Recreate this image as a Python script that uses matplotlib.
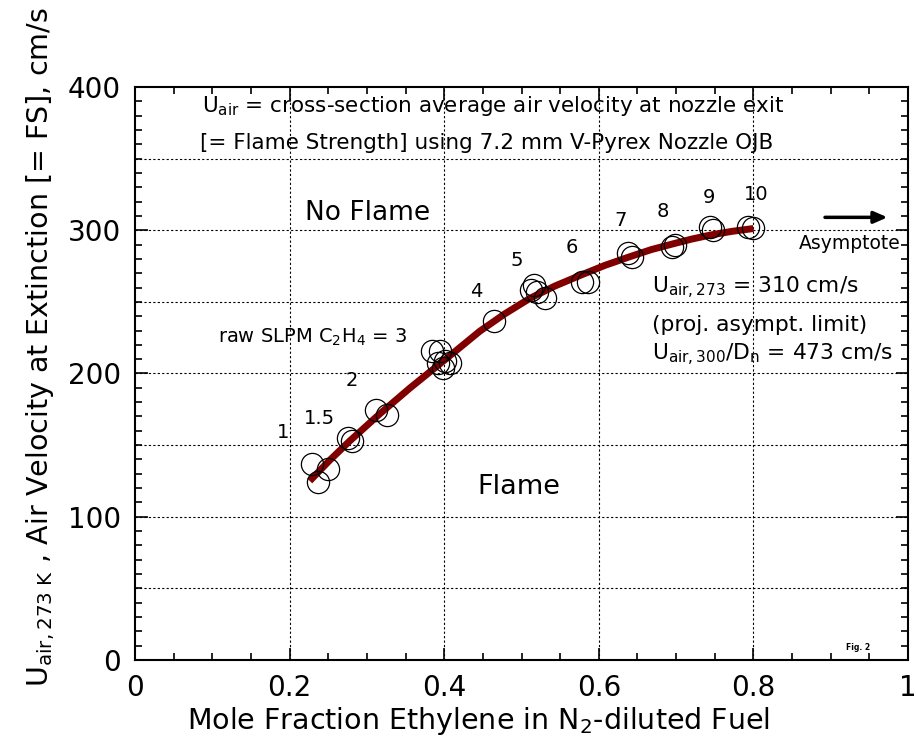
import matplotlib.pyplot as plt
import numpy as np

# puntos medidos (fraccion molar, velocidad)
x_pts = [0.229, 0.237, 0.250, 0.276, 0.281, 0.312, 0.326,
         0.384, 0.395, 0.401, 0.392, 0.407, 0.398,
         0.464, 0.512, 0.516, 0.520, 0.530,
         0.578, 0.586, 0.638, 0.643, 0.695, 0.699,
         0.744, 0.748, 0.793, 0.799]
y_pts = [137, 124, 133, 155, 153, 174.5, 171,
         216, 216, 209, 207, 207, 204,
         236.6, 258, 262, 257, 252.7,
         264, 264, 284, 281, 288, 290,
         302, 300, 302, 301.5]

# curva de ajuste
x_fit = [0.226, 0.252, 0.278, 0.317, 0.356, 0.395, 0.420, 0.446, 0.478, 0.511,
         0.543, 0.576, 0.608, 0.640, 0.668, 0.696, 0.720, 0.744, 0.772, 0.800]
y_fit = [125, 139.5, 153, 172, 190, 207, 218, 229.5, 241.5, 252.5,
         261, 268.5, 275.5, 281.5, 286.5, 290.5, 293.8, 296.6, 299.2, 301.2]

# etiquetas de caudal SLPM
lbl_txt = ['1', '1.5', '2', 'raw SLPM C$_2$H$_4$ = 3', '4', '5', '6', '7', '8', '9', '10']
lbl_x = [0.191, 0.238, 0.281, 0.352, 0.441, 0.494, 0.565, 0.628, 0.683, 0.742, 0.803]
lbl_y = [158.5, 168.7, 195, 225.5, 257, 279, 288, 307, 313, 323, 325]

plt.rcParams['font.family'] = ['DejaVu Sans']

fig = plt.figure(figsize=(9.16, 7.46), dpi=100)
ax = fig.add_axes([0.1474, 0.1153, 0.8439, 0.7681])

ax.plot(x_fit, y_fit, '-', color='#800000', lw=5, solid_capstyle='butt',
        solid_joinstyle='round', zorder=2)
ax.plot(x_pts, y_pts, 'o', mfc='none', mec='black', ms=16, mew=0.9, zorder=3)

for t, xx, yy in zip(lbl_txt, lbl_x, lbl_y):
    ha = 'right' if t.startswith('raw') else 'center'
    ax.text(xx, yy, t, ha=ha, va='center', fontsize=14)

ax.text(0.301, 312, 'No Flame', ha='center', va='center', fontsize=19)
ax.text(0.497, 121, 'Flame', ha='center', va='center', fontsize=19.5)

ax.text(0.463, 387, r'U$_{\rm air}$ = cross-section average air velocity at nozzle exit',
        ha='center', va='center', fontsize=15.5)
ax.text(0.455, 361, '[= Flame Strength] using 7.2 mm V-Pyrex Nozzle OJB',
        ha='center', va='center', fontsize=15.5)

ax.annotate('', xy=(0.977, 309), xytext=(0.889, 309),
            arrowprops=dict(arrowstyle='-|>,head_length=0.8,head_width=0.35', color='black', lw=2.5))
ax.text(0.925, 291, 'Asymptote', ha='center', va='center', fontsize=13.5)

ax.text(0.669, 260, r'U$_{\rm air,273}$ = 310 cm/s', ha='left', va='center', fontsize=15.7)
ax.text(0.669, 234, '(proj. asympt. limit)', ha='left', va='center', fontsize=15.7)
ax.text(0.669, 213, r'U$_{\rm air,300}$/D$_{\rm n}$ = 473 cm/s', ha='left', va='center', fontsize=15.7)

ax.text(0.935, 8.4, 'Fig. 2', ha='center', va='center', fontsize=5.5, fontweight='bold')

ax.set_xlim(0, 1)
ax.set_ylim(0, 400)
ax.set_xticks([0, 0.2, 0.4, 0.6, 0.8, 1])
ax.set_xticklabels(['0', '0.2', '0.4', '0.6', '0.8', '1'])
ax.set_yticks([0, 100, 200, 300, 400])
ax.set_xticks(np.arange(0, 1.0001, 0.05), minor=True)
ax.set_yticks(np.arange(0, 401, 10), minor=True)
ax.tick_params(which='both', direction='in', top=True, right=True)
ax.tick_params(which='major', length=9, width=1.2, labelsize=20, pad=10)
ax.tick_params(which='minor', length=5, width=1.2)
for s in ax.spines.values():
    s.set_linewidth(1.5)

for gx in [0.2, 0.4, 0.6, 0.8]:
    ax.axvline(gx, color='black', ls=(0, (2, 2)), lw=0.8, zorder=1)
for gy in [50, 100, 150, 200, 250, 300, 350]:
    ax.axhline(gy, color='black', ls=(0, (2, 2)), lw=0.8, zorder=1)

ax.set_xlabel(r'Mole Fraction Ethylene in N$_2$-diluted Fuel', fontsize=20.5, labelpad=2)
ax.set_ylabel(r'U$_{\rm air,273\ K}$ , Air Velocity at Extinction [= FS], cm/s', fontsize=20.5, labelpad=8)
ax.xaxis.label.set_x(0.445)
ax.yaxis.label.set_y(0.546)

fig.savefig('out.png', dpi=100)
